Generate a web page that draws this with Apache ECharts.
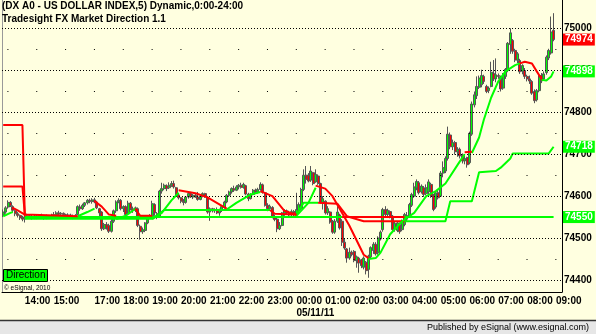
<!DOCTYPE html>
<html>
<head>
<meta charset="utf-8">
<script src="https://cdn.jsdelivr.net/npm/echarts@6/dist/echarts.min.js"></script>
<style>
html,body{margin:0;padding:0;background:#ffffe0;}
#chart{width:596px;height:334px;}
</style>
</head>
<body>
<div id="chart"></div>
<script>
// ---- time axis sessions (5-minute bars) ----
const sessions = [['13:15','16:20'],['17:00','09:10']];
const hourLabels = ['14:00','15:00','17:00','18:00','19:00','20:00','21:00','22:00','23:00','00:00','01:00','02:00','03:00','04:00','05:00','06:00','07:00','08:00','09:00'];
const dayStart = '00:00';
const dateLabel = '05/11/11';

// ---- price tick labels ----
const gridLevels = [74400,74500,74600,74700,74800,74900,75000];
const minorLevels = [74450,74650,74750,74850,74950];
const yMin = 74371, yMax = 75068.5;

// ---- OHLC (DX A0, 5 min) ----
const opens = [
74555,74562,74574,74585,74575,74565,74558,74554,74548,74546,
74549,74553,74550,74548,74552,74549,74553,74551,74548,74552,
74550,74553,74556,74560,74557,74559,74556,74553,74555,74552,
74550,74556,74574,74570,74578,74584,74590,74587,74591,74586,
74570,74562,74522,74532,74530,74516,74540,74565,74586,74590,
74570,74575,74558,74583,74570,74566,74570,74528,74515,74518,
74536,74548,74553,74580,74558,74552,74612,74618,74625,74620,
74626,74630,74620,74603,74596,74588,74585,74598,74606,74598,
74602,74598,74592,74600,74606,74597,74562,74570,74565,74568,
74560,74567,74573,74586,74602,74610,74618,74614,74622,74626,
74621,74625,74605,74594,74604,74614,74610,74616,74627,74608,
74578,74570,74573,74550,74545,74522,74530,74558,74565,74560,
74556,74563,74556,74566,74570,74616,74650,74650,74638,74656,
74634,74648,74630,74585,74588,74560,74562,74540,74514,74540,
74555,74540,74490,74474,74452,74466,74468,74446,74452,74448,
74430,74442,74425,74455,74470,74485,74465,74498,74520,74568,
74556,74563,74552,74522,74518,74532,74520,74532,74554,74552,
74578,74600,74620,74632,74610,74620,74606,74610,74628,74602,
74574,74608,74600,74655,74660,74690,74746,74718,74728,74706,
74712,74698,74684,74692,74680,74748,74818,74840,74860,74866,
74886,74862,74852,74862,74893,74880,74888,74884,74858,74886,
74900,74962,74972,74948,74925,74924,74898,74900,74886,74880,
74874,74850,74830,74852,74888,74880,74895,74930,74942,74996];
const closes = [
74562,74572,74585,74577,74566,74558,74554,74548,74545,74550,
74553,74550,74548,74552,74549,74553,74551,74548,74552,74550,
74553,74556,74560,74557,74559,74556,74553,74555,74552,74550,
74554,74575,74570,74578,74584,74590,74587,74591,74586,74572,
74560,74522,74532,74524,74516,74540,74565,74586,74590,74570,
74575,74556,74583,74570,74566,74572,74530,74515,74520,74536,
74548,74553,74582,74560,74552,74612,74618,74626,74618,74626,
74630,74622,74603,74596,74588,74585,74598,74606,74598,74602,
74598,74592,74600,74606,74598,74562,74570,74565,74568,74560,
74567,74575,74586,74602,74610,74618,74614,74622,74626,74621,
74628,74605,74594,74604,74614,74610,74616,74628,74609,74578,
74570,74576,74550,74544,74522,74530,74560,74565,74560,74555,
74563,74556,74568,74580,74616,74650,74640,74636,74660,74630,
74652,74630,74585,74594,74560,74570,74538,74514,74540,74562,
74524,74490,74476,74452,74466,74460,74446,74455,74440,74434,
74452,74422,74457,74477,74485,74462,74500,74514,74568,74556,
74566,74551,74520,74535,74536,74515,74540,74556,74545,74580,
74604,74622,74635,74608,74624,74604,74620,74634,74600,74568,
74608,74596,74655,74668,74690,74748,74718,74728,74706,74712,
74696,74684,74690,74675,74750,74820,74842,74862,74882,74888,
74874,74850,74858,74896,74880,74890,74886,74856,74890,74903,
74965,74990,74946,74925,74940,74897,74912,74886,74880,74875,
74846,74828,74852,74888,74875,74892,74932,74948,74992,74974];
const lows = [
74550,74558,74570,74574,74562,74552,74549,74543,74540,74537,
74545,74546,74544,74545,74545,74546,74547,74544,74545,74546,
74547,74550,74552,74553,74552,74551,74549,74549,74547,74545,
74546,74555,74565,74567,74574,74580,74583,74582,74583,74569,
74552,74517,74519,74520,74512,74513,74536,74560,74583,74566,
74562,74552,74555,74566,74560,74562,74526,74496,74510,74514,
74533,74545,74550,74553,74545,74549,74606,74614,74612,74617,
74622,74618,74600,74592,74583,74578,74582,74594,74596,74593,
74596,74589,74590,74597,74596,74558,74541,74561,74560,74557,
74553,74562,74570,74583,74598,74606,74610,74612,74616,74618,
74618,74602,74588,74592,74602,74606,74606,74613,74606,74575,
74564,74566,74547,74540,74514,74519,74528,74553,74555,74550,
74552,74550,74552,74558,74566,74612,74630,74633,74634,74626,
74632,74627,74582,74568,74556,74555,74534,74510,74510,74536,
74520,74481,74472,74441,74448,74456,74442,74429,74417,74428,
74425,74413,74405,74450,74462,74458,74460,74494,74515,74552,
74550,74547,74517,74515,74514,74510,74516,74528,74540,74548,
74574,74596,74614,74604,74606,74598,74602,74605,74596,74564,
74570,74592,74598,74645,74655,74685,74712,74710,74699,74694,
74690,74678,74676,74668,74676,74744,74812,74832,74856,74860,
74868,74846,74846,74860,74875,74872,74880,74850,74854,74880,
74896,74940,74940,74920,74918,74892,74891,74880,74874,74868,
74842,74822,74826,74848,74870,74876,74890,74925,74938,74970];
const highs = [
74568,74576,74590,74588,74578,74568,74562,74556,74553,74555,
74558,74556,74555,74556,74555,74557,74558,74554,74556,74555,
74558,74562,74564,74565,74562,74561,74558,74559,74558,74556,
74557,74578,74580,74582,74586,74593,74594,74595,74596,74589,
74572,74564,74536,74538,74534,74545,74568,74590,74595,74593,
74578,74578,74589,74586,74575,74575,74573,74532,74525,74538,
74551,74557,74589,74583,74562,74615,74632,74630,74628,74633,
74636,74637,74622,74606,74598,74593,74600,74609,74609,74605,
74605,74610,74603,74609,74608,74600,74573,74572,74571,74573,
74570,74578,74589,74605,74613,74621,74625,74626,74629,74632,
74632,74627,74608,74607,74617,74618,74620,74633,74630,74610,
74583,74580,74576,74556,74548,74538,74562,74569,74568,74565,
74568,74567,74608,74585,74620,74664,74672,74655,74672,74658,
74664,74652,74632,74600,74590,74576,74564,74543,74545,74576,
74558,74545,74498,74476,74477,74470,74471,74458,74455,74450,
74456,74445,74460,74480,74490,74490,74504,74518,74572,74576,
74570,74566,74555,74538,74540,74537,74544,74560,74562,74584,
74608,74632,74640,74636,74628,74624,74628,74640,74632,74605,
74612,74614,74660,74683,74695,74766,74752,74735,74732,74717,
74716,74702,74696,74694,74754,74826,74850,74886,74888,74902,
74890,74866,74862,74921,74925,74929,74893,74888,74894,74906,
74968,75001,74975,74952,74944,74928,74915,74906,74890,74888,
74877,74855,74856,74892,74894,74898,74936,74952,75029,75037];

// ---- Market Direction lines: [bar index, price] segments ----
const fastRed = [
  [[4,74572],[6,74566],[9,74556],[31,74552]],
  [[38,74588],[41,74575],[44,74556],[47,74553]],
  [[55,74570],[57,74553],[62,74553]],
  [[73,74614],[80,74607],[85,74597],[91,74577],[93,74570]],
  [[107,74612],[112,74600],[117,74565],[122,74555]],
  [[130,74625],[134,74618],[137,74600],[140,74570],[144,74530],[150,74460],[152,74452]],
  [[192,74705],[195,74706]],
  [[215,74917],[217,74921],[220,74917],[222,74898],[224,74880]]
];
const fastGreen = [
  [[0,74552],[3,74560],[4,74562]],
  [[31,74552],[35,74562],[38,74570]],
  [[47,74545],[51,74553],[55,74570]],
  [[62,74545],[66,74560],[70,74590],[73,74608]],
  [[93,74568],[97,74584],[103,74604],[107,74610]],
  [[122,74553],[127,74584],[130,74620]],
  [[152,74450],[155,74452],[157,74465],[161,74509],[166,74540],[171,74560],[176,74600],[180,74612],[184,74630],[190,74683],[192,74700]],
  [[195,74703],[198,74740],[200,74783],[203,74835],[206,74874],[209,74898],[213,74913],[215,74917]],
  [[224,74878],[226,74876],[228,74886],[229,74898]]
];
const mediumRed = [
  [[0,74623],[8,74623],[9,74556]],
  [[111,74567],[113,74558],[122,74556]],
  [[131,74584],[139,74582],[143,74552],[150,74540],[167,74540]]
];
const mediumGreen = [
  [[9,74546],[62,74546],[67,74567],[111,74567]],
  [[122,74556],[125,74584],[131,74584]],
  [[167,74540],[184,74540],[186,74588],[195,74588],[198,74657],[205,74660],[207,74668],[211,74690],[212,74702],[227,74702],[229,74718]]
];
const slowRed = [
  [[0,74770],[8,74770],[9,74552]],
  [[141,74550],[167,74550]]
];
const slowGreen = [
  [[9,74550],[141,74550]],
  [[167,74550],[229,74550]]
];

// ---- build ----
function pad(n){return (n<10?'0':'')+n;}
function buildCategories(list){
  const out=[];
  list.forEach(([a,b])=>{
    let [h,m]=a.split(':').map(Number);
    const [hb,mb]=b.split(':').map(Number);
    while(true){
      out.push(pad(h)+':'+pad(m));
      if(h===hb&&m===mb) break;
      m+=5; if(m>=60){m-=60;h=(h+1)%24;}
    }
  });
  return out;
}
const categories = buildCategories(sessions);
const candles = opens.map((o,i)=>[o,closes[i],lows[i],highs[i]]);
const lastOf = segs => segs[segs.length-1][segs[segs.length-1].length-1][1];
const lastIdx = closes.length-1;

const FONT = '"Liberation Sans", Arial, sans-serif';
const RED = '#ff0000', GREEN = '#00ff00';

function lineSeries(segs, color, z){
  return segs.map(seg=>({
    type:'line', data:seg, symbol:'none', showSymbol:false, silent:true,
    lineStyle:{color:color, width:2}, z:z, animation:false
  }));
}

const axisLbl = {show:true, position:'end', distance:2, color:'#000', fontSize:10, fontWeight:'bold', fontFamily:FONT, formatter:'{c}'};
const boxLbl = (bg)=>({show:true, position:'end', distance:1, color:'#fff', fontSize:10, fontWeight:'bold', fontFamily:FONT,
  formatter:'{c}', backgroundColor:bg, padding:[1,2,0,2], lineHeight:11});
const hidden = {color:'rgba(0,0,0,0)', width:0};

const gridMarks = []
  .concat(gridLevels.map(v=>({yAxis:v, lineStyle:{type:[1,2], color:'#000', width:1}, label:axisLbl})))
  .concat(minorLevels.map(v=>({yAxis:v, lineStyle:{type:[1,27.84], dashOffset:23.43, color:'#000', width:1}, label:{show:false}})));
const valueMarks = [
  {yAxis:lastOf(slowGreen), lineStyle:hidden, label:boxLbl(GREEN)},
  {yAxis:lastOf(mediumGreen), lineStyle:hidden, label:boxLbl(GREEN)},
  {yAxis:lastOf(fastGreen), lineStyle:hidden, label:boxLbl(GREEN)},
  {yAxis:closes[lastIdx], lineStyle:hidden, label:boxLbl(RED)}
];

const chart = echarts.init(document.getElementById('chart'), null, {renderer:'canvas'});
chart.setOption({
  animation:false,
  backgroundColor:'#ffffe0',
  grid:{left:2, right:34, top:0, bottom:42, containLabel:false},
  xAxis:{
    type:'category', data:categories, boundaryGap:true,
    axisLine:{show:true, onZero:false, lineStyle:{color:'#000', width:1}},
    axisTick:{show:false},
    axisLabel:{
      interval:(idx,val)=>hourLabels.indexOf(val)>=0,
      formatter:v=> v===dayStart ? v+'\n'+dateLabel : v,
      align:'left', margin:3, fontSize:10, fontWeight:'bold', color:'#000', fontFamily:FONT, lineHeight:12
    },
    splitLine:{show:true, interval:(idx,val)=>val===dayStart, lineStyle:{color:'#888', type:[1,2], width:1}}
  },
  yAxis:[
    {type:'value', position:'right', min:yMin, max:yMax, scale:true,
     axisLine:{show:true, lineStyle:{color:'#000', width:1}}, axisTick:{show:false},
     axisLabel:{show:false}, splitLine:{show:false}},
    {type:'value', position:'left', min:yMin, max:yMax, scale:true,
     axisLine:{show:true, lineStyle:{color:'#999', width:1}}, axisTick:{show:false},
     axisLabel:{show:false}, splitLine:{show:false}}
  ],
  series:[
    {type:'candlestick', data:candles, barWidth:2.5, z:2, silent:true,
     itemStyle:{color:GREEN, color0:RED, borderColor:'#555', borderColor0:'#555', borderWidth:1},
     markLine:{silent:true, symbol:'none', animation:false, data:gridMarks}
    },
    {type:'line', data:[[lastIdx, closes[lastIdx]]], symbol:'none', showSymbol:false, silent:true,
     lineStyle:hidden, z:10,
     markLine:{silent:true, symbol:'none', animation:false, data:valueMarks}
    }
  ].concat(lineSeries(slowGreen,GREEN,3), lineSeries(slowRed,RED,3),
           lineSeries(mediumGreen,GREEN,4), lineSeries(mediumRed,RED,4),
           lineSeries(fastGreen,GREEN,5), lineSeries(fastRed,RED,5)),
  graphic:[
    {type:'text', left:2, top:1, z:100, style:{text:'(DX A0 - US DOLLAR INDEX,5) Dynamic,0:00-24:00', font:'bold 10px '+FONT, fill:'#000'}},
    {type:'text', left:2, top:14.5, z:100, style:{text:'Tradesight FX Market Direction 1.1', font:'bold 10px '+FONT, fill:'#000'}},
    {type:'rect', left:3, top:269, z:100, shape:{width:44, height:12}, style:{fill:'#00ff00', stroke:'#000', lineWidth:1}},
    {type:'text', left:6, top:270, z:101, style:{text:'Direction', font:'10px '+FONT, fill:'#000'}},
    {type:'text', left:4, top:284.5, z:100, style:{text:'\u00a9 eSignal, 2010', font:'6.5px '+FONT, fill:'#000'}},
    {type:'rect', left:0, top:320, z:100, shape:{width:596, height:14}, style:{fill:'#e6e6e6'}},
    {type:'line', z:101, shape:{x1:0, y1:320.5, x2:596, y2:320.5}, style:{stroke:'#333', lineWidth:1.5}},
    {type:'text', right:7, top:323, z:101, style:{text:'Published by eSignal (www.esignal.com)', font:'9px '+FONT, fill:'#000'}}
  ]
});
</script>
</body>
</html>
